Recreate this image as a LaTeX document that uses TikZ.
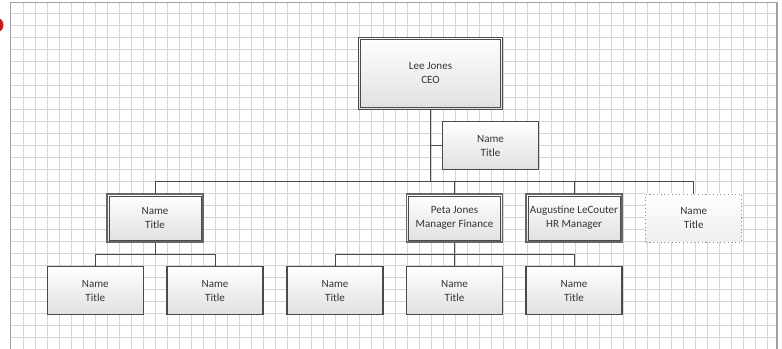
\documentclass[tikz,border=0pt]{standalone}
\usepackage{fontspec}
\setmainfont{Carlito}
\definecolor{gridc}{HTML}{D4D4D4}
\definecolor{framec}{HTML}{A0A0A0}
\definecolor{linec}{HTML}{4A4A4A}
\definecolor{textc}{HTML}{353535}
\definecolor{markc}{HTML}{C41A1A}
\tikzset{
  conn/.style={draw=linec, line width=0.75pt},
  gridline/.style={draw=gridc, line width=0.7pt},
  orgbox/.style={draw=linec, line width=0.8pt, top color=white, bottom color=black!12,
    minimum width=72pt, minimum height=36pt, inner sep=0pt, align=center,
    text=textc, font=\fontsize{8.3}{10.5}\selectfont},
  dblbox/.style={orgbox, draw=black!60, line width=1.1pt},
  innerline/.style={draw=linec, line width=0.6pt},
  dotbox/.style={orgbox, draw=black!45, dotted, line width=0.65pt, top color=white, bottom color=black!7},
  ceobox/.style={dblbox, draw=linec, line width=0.8pt, minimum width=108pt, minimum height=54pt}
}
\begin{document}
\begin{tikzpicture}[x=0.75pt, y=-0.75pt]
  \useasboundingbox (0,0) rectangle (782,349);
  \clip (0,0) rectangle (782,349);
  % page grid
  \foreach \i in {0,...,62}
    \draw[gridline] ({23.5+12*\i},2.5) -- ({23.5+12*\i},349);
  \foreach \j in {0,...,27}
    \draw[gridline] (10.5,{13.5+12*\j}) -- (777,{13.5+12*\j});
  % page frame
  \draw[draw=framec, line width=1.2pt] (10.5,360) -- (10.5,2.5) -- (777,2.5) -- (777,360);
  % red marker at the left edge
  \fill[markc] (-4,25) circle[radius=7.5];

  % boxes
  \node[ceobox] (ceo) at (430.5,73.3) {Lee Jones\\CEO};
  \node[orgbox] (asst) at (490.5,145.5) {Name\\Title};
  \node[dblbox] (mA) at (155,218) {Name\\Title};
  \node[dblbox] (mP) at (454.5,218) {Peta Jones\\Manager Finance};
  \node[dblbox] (mH) at (574,218) {Augustine LeCouter\\HR Manager};
  \node[dotbox] (mD) at (693.7,218) {Name\\Title};
  \node[orgbox] (a1) at (95.3,290.5) {Name\\Title};
  \node[orgbox] (a2) at (215,290.5) {Name\\Title};
  \node[orgbox] (p1) at (335,290.5) {Name\\Title};
  \node[orgbox] (p2) at (454.5,290.5) {Name\\Title};
  \node[orgbox] (p3) at (574,290.5) {Name\\Title};

  % inner rule of the double-framed boxes
  \foreach \n in {ceo,mA,mP,mH}
    \draw[innerline] ([shift={(2pt,2pt)}]\n.south west) rectangle ([shift={(-2pt,-2pt)}]\n.north east);

  % bus levels
  \coordinate (bus) at (0,182);
  \coordinate (busL) at (0,254);

  % connectors
  \draw[conn] (ceo.south) -- (ceo.south |- bus);
  \draw[conn] (ceo.south |- asst.west) -- (asst.west);
  \draw[conn] (mA.north |- bus) -- (mD.north |- bus);
  \foreach \n in {mA,mP,mH,mD}
    \draw[conn] (\n.north) -- (\n.north |- bus);
  \draw[conn] (mA.south) -- (mA.south |- busL);
  \draw[conn] (a1.north |- busL) -- (a2.north |- busL);
  \foreach \n in {a1,a2}
    \draw[conn] (\n.north) -- (\n.north |- busL);
  \draw[conn] (mP.south) -- (mP.south |- busL);
  \draw[conn] (p1.north |- busL) -- (p3.north |- busL);
  \foreach \n in {p1,p2,p3}
    \draw[conn] (\n.north) -- (\n.north |- busL);
\end{tikzpicture}
\end{document}
